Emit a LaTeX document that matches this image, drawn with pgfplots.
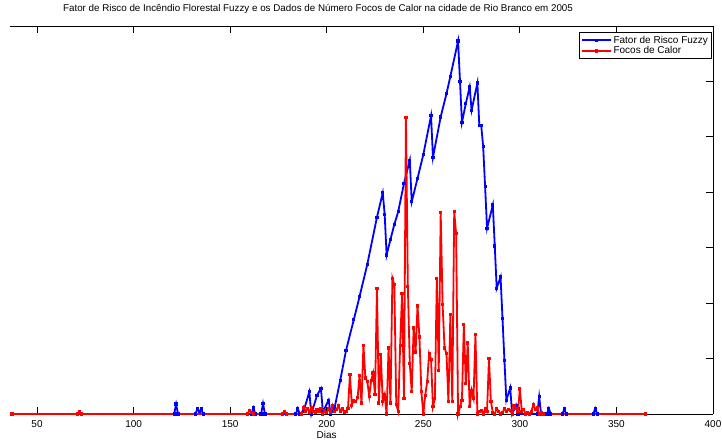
\documentclass[border=0pt]{standalone}
\usepackage{pgfplots}
\pgfplotsset{compat=1.18}
\usepackage{fontspec}
\setmainfont{Liberation Sans}
\begin{document}
\fontsize{10}{11.5}\selectfont
\begin{tikzpicture}
\useasboundingbox (-10pt,-30pt) rectangle (712pt,414pt);
\begin{axis}[
  scale only axis, width=703pt, height=388pt,
  xmin=36, xmax=400, ymin=0, ymax=7,
  axis x line*=box, axis y line*=right,
  axis line style={line width=0.8pt, black},
  xtick={50,100,...,400}, ytick={0,1,...,7}, yticklabels={},
  tick align=inside, major tick length=7pt,
  every tick/.style={black, line width=0.8pt},
  /pgf/number format/assume math mode=true,
  every x tick label/.append style={font=\fontsize{10}{11.5}\selectfont, yshift=-2.5pt},
  clip=false,
  title={Fator de Risco de Incêndio Florestal Fuzzy e os Dados de Número Focos de Calor na cidade de Rio Branco em 2005},
  title style={at={(axis cs:195.5,7)}, anchor=center, yshift=11pt, font=\fontsize{9.8}{11.5}\selectfont},
  xlabel={Dias},
  xlabel style={at={(axis cs:200,0)}, anchor=center, yshift=-20.5pt, font=\fontsize{10}{11.5}\selectfont},
  legend style={at={(rel axis cs:0.998,0.984)}, anchor=north east, draw=black, line width=0.8pt,
    font=\fontsize{10}{11.5}\selectfont, inner sep=1.2pt, row sep=-2pt, cells={anchor=west}},
  legend image code/.code={\draw[mark repeat=2,mark phase=2,#1] plot coordinates {(0pt,0pt) (14.5pt,0pt) (29pt,0pt)};},
]
\addplot[color={rgb,255:red,0;green,0;blue,255}, line width=1.8pt, mark=square*, mark size=0.7pt, mark options={solid}] coordinates {
(37,0)(121,0)(122,0.18)(123,0)(132,0)(133,0.09)(134,0.04)(135,0.09)(136,0)(161,0)(162,0.11)(163,0)(166,0)(167,0.19)(168,0)(184,0)(185,0.10)(186,0)(188,0.05)(191,0.40)(192,0)(195,0.34)(197,0.46)(198,0.04)(201,0.25)(202,0)(204,0.10)(207,0.61)(210,1.15)(214,1.70)(217,2.12)(221,2.70)(226,3.55)(229,3.99)(230,3.60)(231,2.87)(233,3.15)(235,3.42)(237,3.65)(240,4.16)(243,4.58)(244,3.83)(247,4.25)(250,4.68)(254,5.38)(255,4.63)(259,5.36)(262,5.78)(264,6.09)(268,6.73)(269,6.00)(270,5.26)(272,5.60)(274,5.90)(275,5.48)(278,5.97)(279,5.20)(280,5.20)(281,4.82)(282,4.10)(283,3.35)(286,3.77)(287,3.03)(288,2.27)(290,2.47)(291,1.73)(292,0.97)(293,0.25)(295,0.47)(296,0)(298,0.16)(299,0)(309,0)(310,0.31)(311,0)(314,0)(315,0.10)(316,0)(322,0)(323,0.09)(324,0)(338,0)(339,0.10)(340,0)(365,0)
};
\addlegendentry{Fator de Risco Fuzzy}
\addplot[color={rgb,255:red,255;green,0;blue,0}, line width=1.8pt, mark=square*, mark size=0.7pt, mark options={solid}] coordinates {
(37,0)(71,0)(72,0.04)(73,0)(159,0)(160,0.07)(161,0.03)(162,0)(177,0)(178,0.05)(179,0)(187,0)(188,0.12)(189,0.05)(190,0.10)(191,0.03)(192,0.12)(193,0.05)(194,0.02)(195,0.08)(196,0.05)(197,0.10)(198,0)(199,0.06)(200,0.02)(201,0.10)(202,0.03)(203,0.15)(204,0.04)(205,0.08)(206,0.15)(207,0.05)(208,0.10)(209,0.03)(210,0.05)(211,0.10)(212,0.71)(213,0.16)(214,0.25)(215,0.22)(216,0.30)(217,0.70)(218,0.20)(219,1.24)(220,0.65)(221,0.59)(222,0.32)(223,0.60)(224,0.74)(225,0.35)(226,2.27)(227,0.20)(228,1.07)(229,0.22)(230,0.35)(231,0)(232,1.19)(233,0.20)(234,2.45)(235,2.33)(236,0.17)(237,0.05)(238,1.24)(239,2.18)(240,0.28)(241,5.35)(242,2.30)(243,0.91)(244,0.40)(245,1.55)(246,1.12)(247,1.95)(248,1.39)(249,0.40)(250,0)(251,0.34)(252,0.58)(253,1.09)(254,0.99)(255,0.13)(256,0.28)(257,2.45)(258,0.79)(259,3.63)(260,1.97)(261,1.19)(262,1.09)(263,0.22)(264,1.79)(265,0.22)(266,3.65)(267,3.25)(268,0)(269,0.13)(270,0.25)(271,1.61)(272,0.55)(273,1.28)(274,0.13)(275,0.43)(276,0.29)(277,1.43)(278,0)(279,0.05)(280,0.07)(281,0)(282,0.10)(283,0.05)(284,1.00)(285,0.22)(286,0.03)(287,0)(288,0.10)(289,0.05)(290,0)(291,0.02)(292,0.10)(293,0.05)(294,0.08)(295,0.06)(296,0)(297,0.15)(298,0.10)(299,0.05)(300,0.45)(301,0.05)(302,0.08)(303,0)(304,0.02)(305,0)(306,0.05)(307,0.17)(308,0.08)(309,0.12)(310,0)(311,0.03)(312,0)(365,0)
};
\addlegendentry{Focos de Calor}
\end{axis}
\end{tikzpicture}
\end{document}
